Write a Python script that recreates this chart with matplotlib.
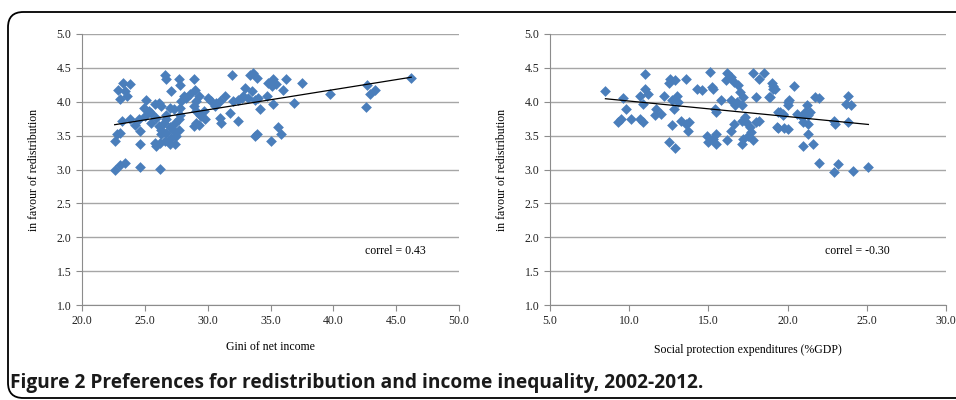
import numpy as np
import matplotlib.pyplot as plt
from matplotlib.patches import FancyBboxPatch

# left panel: Gini of net income vs preference for redistribution
gini = [23.3, 23.8, 22.9, 23.4, 23.6, 23.0, 23.2, 23.8, 24.2, 24.5, 24.6, 22.8, 23.0, 22.6,
        24.6, 22.6, 23.0, 23.4, 24.6, 26.2, 25.1, 24.9, 25.3, 25.0, 25.5, 25.8, 26.1, 26.3,
        25.9, 25.5, 26.1, 26.5, 26.7, 26.3, 26.3, 26.7, 25.8, 25.9, 26.2, 26.6, 27.0, 27.1,
        27.3, 27.4, 27.5, 27.7, 27.0, 27.4, 27.7, 27.8, 27.3, 26.7, 26.6, 26.7, 27.1, 27.7,
        27.8, 28.1, 27.9, 28.3, 28.6, 28.9, 29.0, 29.1, 28.9, 29.1, 28.9, 29.1, 29.4, 29.3,
        27.8, 27.0, 30.0, 30.3, 30.7, 31.0, 30.6, 31.4, 31.9, 31.8, 31.0, 31.1, 32.4, 32.0,
        32.4, 32.7, 33.0, 32.8, 33.2, 33.4, 33.6, 33.9, 33.5, 33.8, 34.2, 34.0, 34.7, 34.8,
        35.2, 35.1, 35.4, 36.0, 36.2, 35.2, 36.9, 37.5, 33.9, 33.8, 35.0, 35.6, 35.8, 29.5,
        29.8, 29.3, 29.7, 39.7, 42.6, 42.7, 42.9, 43.3, 46.2]
redis_left = [4.28, 4.26, 4.18, 4.16, 4.08, 4.04, 3.71, 3.74, 3.66, 3.74, 3.57, 3.52, 3.54, 3.42,
              3.38, 2.99, 3.07, 3.10, 3.04, 3.01, 4.03, 3.91, 3.86, 3.79, 3.84, 3.96, 3.98, 3.93,
              3.76, 3.69, 3.64, 3.69, 3.74, 3.59, 3.52, 3.54, 3.39, 3.35, 3.39, 3.42, 3.37, 3.47,
              3.57, 3.37, 3.49, 3.59, 3.62, 3.69, 3.74, 3.81, 3.89, 3.81, 4.40, 4.33, 4.16, 4.33,
              4.25, 4.08, 4.01, 4.06, 4.11, 4.33, 4.18, 4.01, 3.93, 3.86, 3.64, 3.69, 3.81, 4.08,
              3.91, 3.91, 4.06, 4.01, 3.98, 4.01, 3.93, 4.08, 4.40, 3.84, 3.76, 3.69, 3.71, 4.01,
              4.03, 4.06, 4.21, 4.08, 4.06, 4.40, 4.43, 4.35, 4.16, 4.03, 3.89, 4.06, 4.08, 4.28,
              4.33, 4.23, 4.26, 4.18, 4.33, 3.96, 3.98, 4.28, 3.52, 3.49, 3.42, 3.62, 3.52, 3.79,
              3.74, 3.66, 3.86, 4.11, 3.92, 4.25, 4.11, 4.18, 4.35]

# right panel: social protection expenditures vs preference for redistribution
social = [8.5, 11.0, 9.6, 9.8, 9.5, 9.3, 10.1, 10.7, 10.9, 10.7, 11.0, 10.9, 11.2, 11.7, 12.0,
          11.6, 12.2, 12.6, 12.5, 12.9, 12.7, 13.0, 13.1, 12.8, 12.7, 12.5, 12.9, 13.6, 13.3,
          13.6, 13.8, 13.7, 14.3, 14.6, 15.1, 15.3, 15.4, 15.2, 15.5, 15.8, 16.2, 16.1, 16.4,
          16.6, 16.9, 17.0, 17.2, 16.8, 17.1, 16.7, 16.4, 14.9, 15.0, 15.3, 15.5, 15.5, 16.2,
          16.4, 16.6, 17.1, 17.3, 17.4, 17.6, 17.7, 17.5, 17.2, 17.8, 17.1, 18.0, 18.2, 17.8,
          18.5, 18.2, 19.0, 19.1, 18.0, 18.8, 20.0, 19.5, 19.7, 19.3, 20.0, 19.1, 19.2, 18.9,
          20.4, 20.1, 20.0, 19.4, 19.7, 19.4, 19.8, 20.6, 20.9, 21.0, 21.2, 21.1, 21.3, 21.4,
          21.3, 21.3, 21.0, 21.6, 21.7, 22.0, 22.9, 23.0, 23.8, 23.7, 24.0, 23.8, 22.0, 22.9,
          23.2, 24.1, 25.1]
redis_right = [4.16, 4.41, 4.05, 3.90, 3.75, 3.70, 3.75, 3.75, 3.70, 4.09, 4.19, 3.97, 4.12, 3.90,
               3.82, 3.80, 4.09, 4.34, 4.27, 4.32, 4.02, 4.09, 4.00, 3.90, 3.65, 3.41, 3.31, 4.34,
               3.72, 3.67, 3.70, 3.57, 4.19, 4.17, 4.44, 4.19, 3.90, 4.22, 3.85, 4.02, 4.42, 4.32,
               4.37, 4.29, 4.24, 4.14, 4.07, 4.00, 3.95, 3.95, 4.02, 3.50, 3.40, 3.45, 3.52, 3.38,
               3.43, 3.57, 3.67, 3.72, 3.77, 3.70, 3.62, 3.55, 3.50, 3.45, 3.43, 3.38, 3.70, 3.72,
               4.42, 4.42, 4.34, 4.27, 4.19, 4.07, 4.07, 4.00, 3.85, 3.82, 3.62, 3.60, 4.23, 4.19,
               4.07, 4.23, 4.02, 3.95, 3.85, 3.80, 3.61, 3.61, 3.82, 3.77, 3.70, 3.95, 3.85, 3.80,
               3.85, 3.67, 3.52, 3.34, 3.38, 4.07, 4.05, 3.72, 3.67, 4.09, 3.97, 3.95, 3.70, 3.10,
               2.97, 3.08, 2.98, 3.03]

y_ticks = [1.0, 1.5, 2.0, 2.5, 3.0, 3.5, 4.0, 4.5, 5.0]
blue = '#4a7ebb'
grid_col = '#a6a6a6'

fig = plt.figure(figsize=(9.56, 4.0), dpi=100)
plt.rcParams['font.family'] = ['Liberation Serif', 'DejaVu Serif']

# rounded frame around figure + caption
frame = FancyBboxPatch((8 / 956, 2 / 400), 1.2, 386 / 400, boxstyle='round,pad=0,rounding_size=0.016',
                       transform=fig.transFigure, fill=False, ec='black', lw=1.3,
                       mutation_aspect=956 / 400)
fig.patches.append(frame)
fig.text(10 / 956, 12 / 400, 'Figure 2 Preferences for redistribution and income inequality, 2002-2012.',
         family='Open Sans', weight='bold', fontsize=13.8, va='baseline', color='#1a1a1a')


def panel(rect, x, y, xlim, xlabel, correl, cx, xpad):
    ax = fig.add_axes(rect)
    ax.set_xlim(*xlim)
    ax.set_ylim(1.0, 5.0)
    ax.set_yticks(y_ticks)
    ax.set_xticks(np.arange(xlim[0], xlim[1] + 0.1, 5.0))
    ax.xaxis.set_major_formatter('{x:.1f}')
    ax.yaxis.set_major_formatter('{x:.1f}')
    ax.grid(axis='y', color=grid_col, lw=1.0)
    ax.set_axisbelow(True)
    for s in ['top', 'right']:
        ax.spines[s].set_visible(False)
    for s in ['left', 'bottom']:
        ax.spines[s].set_color('#8c8c8c')
    ax.tick_params(colors='#8c8c8c', labelcolor='#222222', labelsize=8.5, length=4)
    ax.scatter(x, y, marker='D', s=30, color=blue, lw=0, zorder=3)
    # linear trend
    k, b = np.polyfit(x, y, 1)
    xs = np.array([min(x), max(x)])
    ax.plot(xs, k * xs + b, color='black', lw=0.9, zorder=4)
    ax.set_xlabel(xlabel, fontsize=8.5, labelpad=xpad)
    ax.set_ylabel('in favour of redistribution', fontsize=8.5, labelpad=12)
    ax.text(cx, 0.19, correl, transform=ax.transAxes, fontsize=8.5, ha='center')
    return ax


panel([82 / 956, 95 / 400, 377 / 956, 271 / 400], gini, redis_left, (20, 50),
      'Gini of net income', 'correl = 0.43', 0.83, 10)
panel([550 / 956, 95 / 400, 396 / 956, 271 / 400], social, redis_right, (5, 30),
      'Social protection expenditures (%GDP)', 'correl = -0.30', 0.775, 12)

fig.savefig('out.png', dpi=100)
